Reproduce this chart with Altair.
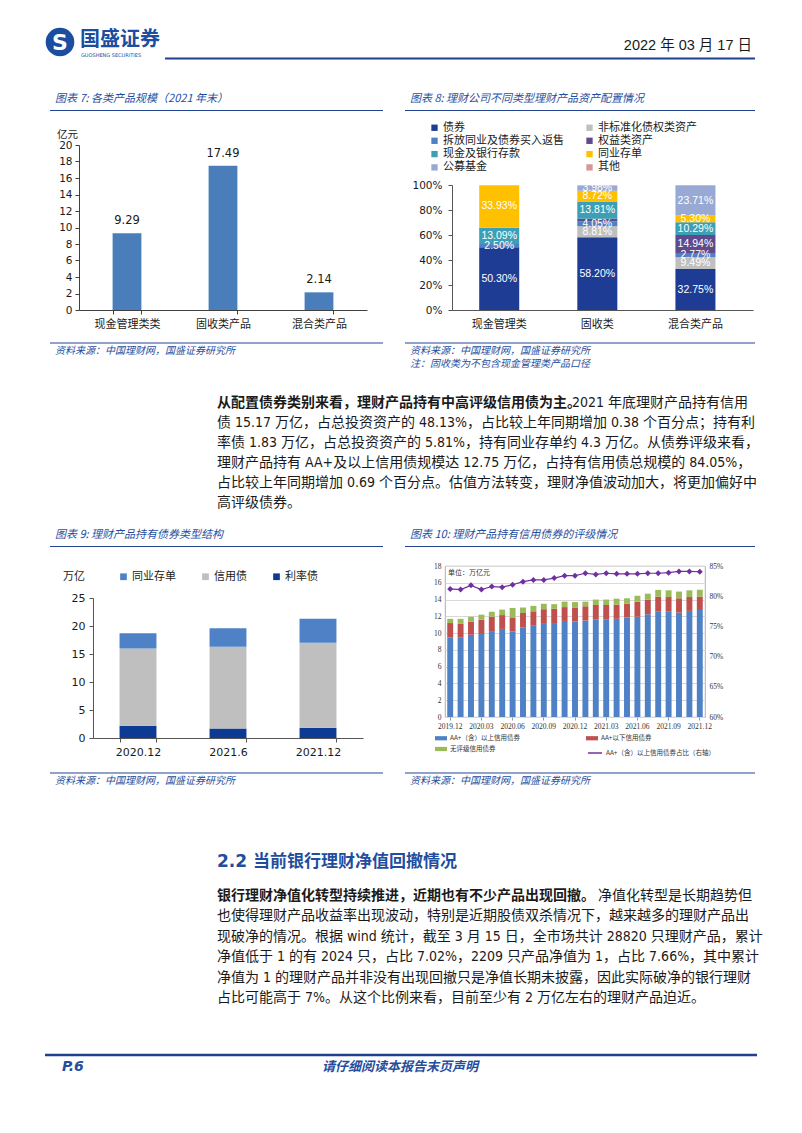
import altair as alt
import pandas as pd

CJK = "Noto Sans CJK SC"
NUM = "DejaVu Sans, Noto Sans CJK SC"
BODY = "DejaVu Sans Condensed, Noto Sans CJK SC"
SERIF = "Liberation Serif, Noto Sans CJK SC"
BLUE = "#1f4e9e"
RULE = "#244494"
INK = "#1a1a1a"

# ---------------- data ----------------
c7_cats = ["现金管理类类", "固收类产品", "混合类产品"]
c7_vals = [9.29, 17.49, 2.14]

c8_cats = ["现金管理类", "固收类", "混合类产品"]
c8_series = ["债券", "非标准化债权类资产", "拆放同业及债券买入返售", "权益类资产",
             "现金及银行存款", "同业存单", "公募基金", "其他"]
c8_colors = ["#1f3c94", "#bfbfbf", "#4f7fc4", "#5e4a8c", "#3d9fb5", "#ffc000", "#98aad4", "#d99694"]
c8_cash = [50.30, 0.0, 2.50, 0.0, 13.09, 33.93, 0.0, 0.0]
c8_fixed = [58.20, 8.81, 4.05, 1.90, 13.81, 8.72, 3.98, 0.30]
c8_mixed = [32.75, 9.49, 2.77, 14.94, 10.29, 5.30, 23.71, 0.60]

c9_cats = ["2020.12", "2021.6", "2021.12"]
c9_series = ["同业存单", "信用债", "利率债"]
c9_colors = ["#4f81c6", "#bfbfbf", "#0d3b94"]
c9_ncd = [2.7, 3.3, 4.3]
c9_credit = [13.8, 14.6, 15.17]
c9_rate = [2.2, 1.7, 1.83]

c10_months = ["2019.12", "2020.01", "2020.02", "2020.03", "2020.04", "2020.05", "2020.06",
              "2020.07", "2020.08", "2020.09", "2020.10", "2020.11", "2020.12", "2021.01",
              "2021.02", "2021.03", "2021.04", "2021.05", "2021.06", "2021.07", "2021.08",
              "2021.09", "2021.10", "2021.11", "2021.12"]
c10_ticks = ["2019.12", "2020.03", "2020.06", "2020.09", "2020.12", "2021.03", "2021.06", "2021.09", "2021.12"]
c10_series = ["AA+（含）以上信用债券", "AA+以下信用债券", "无评级信用债券"]
c10_colors = ["#4f81c6", "#c0504d", "#9bbb59"]
c10_line_name = "AA+（含）以上信用债券占比（右轴）"
c10_aa_up = [9.5, 9.45, 9.8, 9.9, 10.15, 10.5, 10.2, 10.65, 10.95, 11.1, 11.2, 11.45, 11.4,
             11.5, 11.6, 11.6, 11.7, 11.85, 11.95, 12.25, 12.55, 12.55, 12.45, 12.65, 12.75]
c10_aa_down = [1.7, 1.65, 1.55, 1.7, 1.8, 1.65, 1.6, 1.75, 1.65, 1.75, 1.7, 1.65, 1.6,
               1.7, 1.75, 1.75, 1.7, 1.65, 1.8, 1.75, 1.8, 1.75, 1.7, 1.65, 1.6]
c10_unrated = [0.5, 0.6, 0.6, 0.6, 0.6, 0.65, 1.2, 0.65, 0.65, 0.65, 0.55, 0.65, 0.7,
               0.55, 0.65, 0.65, 0.7, 0.65, 0.7, 0.7, 0.8, 0.8, 0.8, 0.8, 0.82]
c10_ratio = [81.2, 81.1, 81.8, 81.1, 81.6, 81.5, 81.9, 82.4, 82.7, 82.7, 83.0, 83.4, 83.4,
             83.8, 83.6, 83.8, 83.7, 83.7, 83.7, 83.8, 83.8, 83.9, 84.1, 84.1, 84.05]

para1_bold = "从配置债券类别来看，理财产品持有中高评级信用债为主。"
para1_first = "2021 年底理财产品持有信用"
para1_rest = [
    "债 15.17 万亿，占总投资资产的 48.13%，占比较上年同期增加 0.38 个百分点；持有利",
    "率债 1.83 万亿，占总投资资产的 5.81%，持有同业存单约 4.3 万亿。从债券评级来看，",
    "理财产品持有 AA+及以上信用债规模达 12.75 万亿，占持有信用债总规模的 84.05%，",
    "占比较上年同期增加 0.69 个百分点。估值方法转变，理财净值波动加大，将更加偏好中",
    "高评级债券。",
]
para2_bold = "银行理财净值化转型持续推进，近期也有不少产品出现回撤。"
para2_first = "净值化转型是长期趋势但"
para2_rest = [
    "也使得理财产品收益率出现波动，特别是近期股债双杀情况下，越来越多的理财产品出",
    "现破净的情况。根据 wind 统计，截至 3 月 15 日，全市场共计 28820 只理财产品，累计",
    "净值低于 1 的有 2024 只，占比 7.02%，2209 只产品净值为 1，占比 7.66%，其中累计",
    "净值为 1 的理财产品并非没有出现回撤只是净值长期未披露，因此实际破净的银行理财",
    "占比可能高于 7%。从这个比例来看，目前至少有 2 万亿左右的理财产品迫近。",
]
src_text = "资料来源：中国理财网，国盛证券研究所"
note_text = "注：固收类为不包含现金管理类产品口径"

# ---------------- layout grid (page coords) ----------------
COL = [8, 445]
ROW = [8, 145, 310, 566, 738]
W0, W1 = 437, 341
H = [137, 165, 256, 172, 342]


def T(o, s, X, Y, size=11, color=INK, weight="normal", style="normal", align="left", font=CJK):
    return alt.Chart(alt.InlineData(values=[{"t": s}])).mark_text(
        align=align, baseline="middle", font=font, fontSize=size, color=color,
        fontWeight=weight, fontStyle=style
    ).encode(text="t:N", x=alt.value(X - o[0]), y=alt.value(Y - o[1]))


def R(o, X1, X2, Y, color=RULE, w=1.2):
    return alt.Chart(alt.InlineData(values=[{"t": 0}])).mark_rule(
        color=color, strokeWidth=w
    ).encode(x=alt.value(X1 - o[0]), x2=alt.value(X2 - o[0]), y=alt.value(Y - o[1]))


# ---------------- row 0 decorations ----------------
o00 = (COL[0], ROW[0])
logo = alt.Chart(alt.InlineData(values=[{"t": 0}])).mark_circle(
    size=820, color="#1b4da0", opacity=1).encode(x=alt.value(60 - o00[0]), y=alt.value(42 - o00[1]))
row0l = alt.layer(
    logo,
    T(o00, "S", 60, 43, size=22, color="white", weight="bold", align="center", font="DejaVu Sans"),
    T(o00, "国盛证券", 80, 40, size=20, color="#1b4da0", weight="bold"),
    T(o00, "GUOSHENG SECURITIES", 81, 55, size=5, color="#1b4da0", font="DejaVu Sans"),
    R(o00, 165, 755, 58.5, color="#1f3f8f", w=2),
    T(o00, "图表 7:  各类产品规模（2021 年末）", 55, 99, size=11, color=BLUE, style="italic"),
    R(o00, 50, 383, 110.5),
).properties(width=W0, height=H[0])

o01 = (COL[1], ROW[0])
row0r = alt.layer(
    T(o01, "2022 年 03 月 17 日", 752, 46, size=14.5, color=INK, align="right",
      font="Liberation Sans Narrow, Liberation Sans, Noto Sans CJK SC"),
    T(o01, "图表 8:  理财公司不同类型理财产品资产配置情况", 410, 99, size=11, color=BLUE, style="italic"),
    R(o01, 405, 755, 110.5),
).properties(width=W1, height=H[0])

# ---------------- chart 7 ----------------
o7 = (COL[0], ROW[1])
df7 = pd.DataFrame({"cat": c7_cats, "v": c7_vals})
ax7x = alt.Axis(title=None, labelAngle=0, labelFont=CJK, labelFontSize=11, labelColor=INK,
                domainColor="#404040", tickColor="#404040", tickSize=4, tickBand="extent", labelPadding=4)
ax7y = alt.Axis(title=None, values=list(range(0, 21, 2)), offset=-71, labelFont=NUM, labelFontSize=10.5,
                labelColor=INK, domainColor="#404040", tickColor="#404040", tickSize=4, grid=False,
                labelPadding=3)
sx7 = alt.Scale(range=[71, 359], paddingInner=0.7, paddingOuter=0.35)
sy7 = alt.Scale(domain=[0, 20], nice=False)
x7 = alt.X("cat:N", sort=c7_cats, scale=sx7, axis=ax7x)
y7 = alt.Y("v:Q", scale=sy7, axis=ax7y)
bars7 = alt.Chart(df7).mark_bar(color="#4a7ebb").encode(x=x7, y=y7)
lab7 = alt.Chart(df7).mark_text(dy=-12, font=NUM, fontSize=11.5, color=INK).encode(
    x=x7, y=y7, text=alt.Text("v:Q", format=".2f"))
chart7 = alt.layer(bars7, lab7, T(o7, "亿元", 57, 135, size=10.5)).properties(width=W0, height=H[1])

# ---------------- chart 8 ----------------
rows8 = []
for cat, vals in zip(c8_cats, [c8_cash, c8_fixed, c8_mixed]):
    for i, (s, v) in enumerate(zip(c8_series, vals)):
        rows8.append({"cat": cat, "s": s, "v": v, "o": i, "lab": f"{v:.2f}%" if v >= 2.5 else ""})
df8 = pd.DataFrame(rows8)
base8 = alt.Chart(df8).transform_stack(
    stack="v", groupby=["cat"], as_=["v0", "v1"], sort=[alt.SortField(field="o", order="ascending")]
).transform_calculate(mid="(datum.v0 + datum.v1) / 2")
sx8 = alt.Scale(range=[7, 308], paddingInner=0.592, paddingOuter=0.33, align=0.42)
ax8x = alt.Axis(title=None, labelAngle=0, labelFont=CJK, labelFontSize=11, labelColor=INK,
                domainColor="#555555", ticks=False, labelPadding=8)
sy8 = alt.Scale(domain=[0, 100], range=[165, 40], nice=False)
ax8y = alt.Axis(title=None, values=[0, 20, 40, 60, 80, 100], labelExpr="datum.value + '%'", offset=-7,
                labelFont=NUM, labelFontSize=10.5, labelColor=INK, domainColor="#555555",
                tickColor="#555555", tickSize=4, grid=False, labelPadding=6)
x8 = alt.X("cat:N", sort=c8_cats, scale=sx8, axis=ax8x)
bars8 = base8.mark_bar().encode(
    x=x8,
    y=alt.Y("v0:Q", scale=sy8, axis=ax8y),
    y2="v1:Q",
    color=alt.Color("s:N", scale=alt.Scale(domain=c8_series, range=c8_colors),
                    legend=alt.Legend(title=None, orient="none", legendX=-16, legendY=-23, columns=2,
                                      direction="horizontal",
                                      symbolType="square", symbolSize=40, symbolStrokeWidth=0,
                                      labelFont=CJK, labelFontSize=11, labelColor=INK, labelOffset=3,
                                      columnPadding=20, rowPadding=1.3, labelLimit=300, padding=0)),
)
text8 = base8.mark_text(color="white", font="Liberation Sans, DejaVu Sans", fontSize=10.5).encode(
    x=x8, y=alt.Y("mid:Q", scale=sy8, axis=ax8y), text="lab:N")
chart8 = alt.layer(bars8, text8).properties(width=308, height=H[1])

# ---------------- row 2 decorations ----------------
o20 = (COL[0], ROW[2])
p1 = [R(o20, 50, 383, 343),
      T(o20, src_text, 55, 351, size=10, color=BLUE, style="italic"),
      T(o20, para1_bold, 217, 403, size=14, weight="bold", font=BODY),
      T(o20, para1_first, 572, 403, size=14, font=BODY)]
for k, line in enumerate(para1_rest):
    p1.append(T(o20, line, 217, 403 + 19.9 * (k + 1), size=14, font=BODY))
p1 += [T(o20, "图表 9:  理财产品持有债券类型结构", 55, 535, size=11, color=BLUE, style="italic"),
       R(o20, 50, 383, 546.5)]
row2l = alt.layer(*p1).properties(width=W0, height=H[2])

o21 = (COL[1], ROW[2])
row2r = alt.layer(
    R(o21, 405, 755, 343),
    T(o21, src_text, 410, 351, size=10, color=BLUE, style="italic"),
    T(o21, note_text, 410, 364, size=10, color=BLUE, style="italic"),
    T(o21, "图表 10:  理财产品持有信用债券的评级情况", 410, 535, size=11, color=BLUE, style="italic"),
    R(o21, 405, 755, 546.5),
).properties(width=W1, height=H[2])

# ---------------- chart 9 ----------------
o9 = (COL[0], ROW[3])
rows9 = []
for i, cat in enumerate(c9_cats):
    rows9.append({"cat": cat, "s": "利率债", "v": c9_rate[i], "o": 0})
    rows9.append({"cat": cat, "s": "信用债", "v": c9_credit[i], "o": 1})
    rows9.append({"cat": cat, "s": "同业存单", "v": c9_ncd[i], "o": 2})
df9 = pd.DataFrame(rows9)
sx9 = alt.Scale(range=[85, 355], paddingInner=0.59, paddingOuter=0.295)
sy9 = alt.Scale(domain=[0, 25], range=[172, 32], nice=False)
bars9 = alt.Chart(df9).mark_bar().encode(
    x=alt.X("cat:N", sort=c9_cats, scale=sx9,
            axis=alt.Axis(title=None, labelAngle=0, labelFont=NUM, labelFontSize=11, labelColor=INK,
                          domainColor="#555555", tickColor="#555555", tickSize=4, tickBand="extent",
                          labelPadding=4)),
    y=alt.Y("v:Q", stack="zero", scale=sy9,
            axis=alt.Axis(title=None, values=[0, 5, 10, 15, 20, 25], offset=-85, labelFont=NUM,
                          labelFontSize=11, labelColor=INK, domainColor="#555555", tickColor="#555555",
                          tickSize=4, grid=False, labelPadding=4)),
    color=alt.Color("s:N", scale=alt.Scale(domain=c9_series, range=c9_colors),
                    legend=alt.Legend(title=None, orient="none", legendX=110, legendY=5,
                                      direction="horizontal", symbolType="square", symbolSize=45,
                                      symbolStrokeWidth=0, labelFont=CJK, labelFontSize=11,
                                      labelColor=INK, labelOffset=3, columnPadding=24, padding=0)),
    order=alt.Order("o:Q"),
)
chart9 = alt.layer(bars9, T(o9, "万亿", 63, 577, size=11)).properties(width=W0, height=H[3])

# ---------------- chart 10 ----------------
o10 = (COL[1], ROW[3])
rows10 = []
for i, m in enumerate(c10_months):
    for j, vals in enumerate([c10_aa_up, c10_aa_down, c10_unrated]):
        rows10.append({"m": m, "s": c10_series[j], "v": vals[i], "o": j})
df10 = pd.DataFrame(rows10)
df10l = pd.DataFrame({"m": c10_months, "r": c10_ratio, "n": [c10_line_name] * len(c10_months)})
x10 = alt.X("m:N", sort=c10_months, scale=alt.Scale(paddingInner=0.43, paddingOuter=0.215),
            axis=alt.Axis(title=None, values=c10_ticks, labelAngle=0, labelFont=SERIF, labelFontSize=7.5,
                          labelColor="#333333", labelOverlap=False, domain=False, tickSize=3,
                          tickColor="#999999", labelPadding=2))
bars10 = alt.Chart(df10).mark_bar().encode(
    x=x10,
    y=alt.Y("v:Q", stack="zero", scale=alt.Scale(domain=[0, 18], nice=False),
            axis=alt.Axis(title=None, values=list(range(0, 19, 2)), grid=True, gridColor="#d9d9d9",
                          domain=False, ticks=False, labelFont=SERIF, labelFontSize=7.5,
                          labelColor="#333333", labelPadding=4)),
    fill=alt.Fill("s:N", scale=alt.Scale(domain=c10_series, range=c10_colors),
                  legend=alt.Legend(title=None, orient="none", legendX=-10, legendY=166, columns=2,
                                    direction="horizontal",
                                    symbolType="M-1,-0.35H1V0.35H-1Z", symbolSize=144,
                                    symbolStrokeWidth=0, labelFont=CJK, labelFontSize=6.5,
                                    labelColor="#333333", labelOffset=3, columnPadding=66,
                                    rowPadding=1, labelLimit=300, padding=0)),
    order=alt.Order("o:Q"),
)
line10 = alt.Chart(df10l).mark_line(
    strokeWidth=1.2, point=alt.OverlayMarkDef(shape="diamond", size=10, filled=True, color="#7030a0")
).encode(
    x=x10,
    y=alt.Y("r:Q", scale=alt.Scale(domain=[60, 85], nice=False),
            axis=alt.Axis(orient="right", title=None, values=[60, 65, 70, 75, 80, 85],
                          labelExpr="datum.value + '%'", grid=False, domain=False, ticks=False,
                          labelFont=SERIF, labelFontSize=7.5, labelColor="#333333", labelPadding=4)),
    stroke=alt.Stroke("n:N", scale=alt.Scale(domain=[c10_line_name], range=["#7030a0"]),
                      legend=alt.Legend(title=None, orient="none", legendX=142, legendY=179,
                                        symbolType="stroke", symbolSize=200, symbolStrokeWidth=1.5,
                                        labelFont=CJK, labelFontSize=6.5, labelColor="#333333",
                                        labelOffset=3, labelLimit=300, padding=0)),
)
chart10 = alt.layer(
    bars10, line10, T(o10, "单位：万亿元", 448, 573, size=7, color="#333333")
).resolve_scale(y="independent").properties(
    width=260, height=151, view=alt.ViewBackground(stroke="#9a9a9a", strokeWidth=0.8))

# ---------------- row 4 decorations ----------------
o40 = (COL[0], ROW[4])
p2 = [R(o40, 50, 383, 773),
      T(o40, src_text, 55, 781, size=10, color=BLUE, style="italic"),
      T(o40, "2.2 当前银行理财净值回撤情况", 217, 862, size=17, color=BLUE, weight="bold",
        font="DejaVu Sans, Noto Sans CJK SC"),
      T(o40, para2_bold, 217, 896, size=14, weight="bold", font=BODY),
      T(o40, para2_first, 598, 896, size=14, font=BODY)]
for k, line in enumerate(para2_rest):
    p2.append(T(o40, line, 217, 896 + 20.4 * (k + 1), size=14, font=BODY))
p2 += [R(o40, 45, 757, 1055, color="#1f3f8f", w=2.5),
       T(o40, "P.6", 62, 1067, size=14, color=BLUE, weight="bold", style="italic", font="DejaVu Sans"),
       T(o40, "请仔细阅读本报告末页声明", 400, 1067, size=13, color=BLUE, weight="bold",
         style="italic", align="center")]
row4l = alt.layer(*p2).properties(width=W0, height=H[4])

o41 = (COL[1], ROW[4])
row4r = alt.layer(
    R(o41, 405, 755, 773),
    T(o41, src_text, 410, 781, size=10, color=BLUE, style="italic"),
).properties(width=W1, height=H[4])

page = alt.concat(
    row0l, row0r, chart7, chart8, row2l, row2r, chart9, chart10, row4l, row4r,
    columns=2, spacing=0, bounds="flush"
).resolve_scale(
    color="independent", fill="independent", stroke="independent"
).resolve_legend(
    color="independent", fill="independent", stroke="independent"
).properties(padding=0).configure_view(strokeWidth=0)

page.save("out.html", embed_options={"renderer": "svg", "actions": False})
